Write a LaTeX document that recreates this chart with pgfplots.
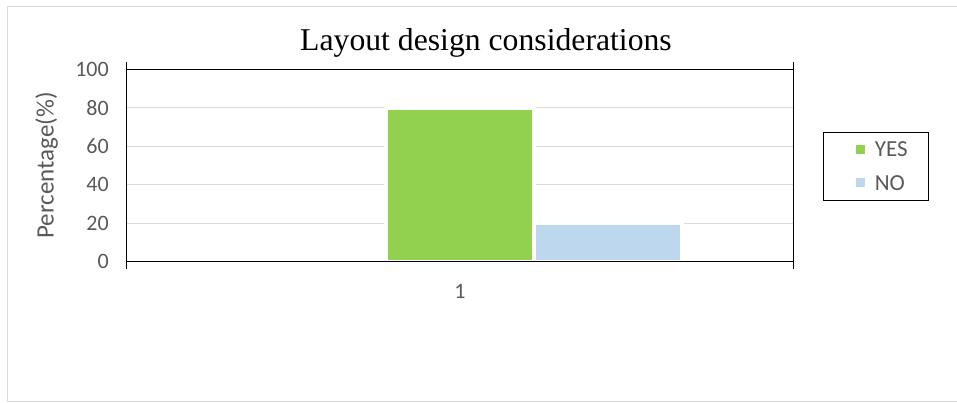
\documentclass[border=0pt]{standalone}
\usepackage{pgfplots}
\pgfplotsset{compat=1.18}
\usepackage{fontspec}
\setmainfont{Carlito}
\newfontfamily\titlefont{Liberation Serif}
\definecolor{yesgreen}{HTML}{92D050}
\definecolor{noblue}{HTML}{BDD7EE}
\definecolor{gridgray}{HTML}{D9D9D9}
\definecolor{labelgray}{HTML}{595959}
\definecolor{framegray}{HTML}{D9D9D9}

\begin{document}
\begin{tikzpicture}
\useasboundingbox (0,0) rectangle (957pt,403pt);
% chart area frame
\draw[framegray, line width=1pt] (7pt,1.3pt) rectangle (970pt,396pt);
\begin{axis}[
  at={(126.7pt,141.3pt)}, anchor=south west,
  scale only axis, width=666.6pt, height=192.4pt,
  ybar, bar width=0.2223,
  xmin=-0.5, xmax=0.5, ymin=0, ymax=100,
  ytick={0,20,...,100},
  xtick={0}, xticklabels={1},
  major tick length=0pt,
  extra x ticks={-0.5,0.5}, extra x tick labels={},
  extra x tick style={tick align=outside, major tick length=7.5pt,
    tick style={draw=black, line width=1pt}},
  ymajorgrids, grid style={gridgray, line width=1pt},
  axis line style={black, line width=1.2pt},
  /pgf/number format/assume math mode=true,
  ticklabel style={font=\fontsize{22}{26}\selectfont, text=labelgray},
  yticklabel style={xshift=-14.4pt},
  xticklabel style={yshift=-19pt},
  title={Layout design considerations},
  title style={font=\titlefont\fontsize{31.7}{36}\selectfont,
    at={(axis description cs:0.539,1)}, anchor=base, yshift=12.3pt},
  ylabel={Percentage(\%)},
  ylabel style={font=\fontsize{25}{30}\selectfont, text=labelgray,
    at={(axis description cs:-0.12,0.5)}, anchor=center},
  legend style={at={(axis description cs:1.045,0.6757)}, anchor=north west,
    draw=black, line width=1pt, font=\fontsize{23}{27}\selectfont,
    text=labelgray, inner xsep=19pt, inner ysep=10pt, row sep=18.6pt,
    nodes={text height=14.8pt, text depth=0pt, inner ysep=0pt},
    cells={anchor=west}},
  legend image code/.code={%
    \path[draw=none, fill=none] (0pt,-4.5pt) rectangle (30pt,4.5pt);
    \path[#1, draw=none] (13pt,-4.5pt) rectangle (22pt,4.5pt);},
]
\addplot[fill=yesgreen, draw=white, line width=4.3pt, bar shift=0] coordinates {(0,80)};
\addplot[fill=noblue, draw=white, line width=4.3pt, bar shift=0.2223] coordinates {(0,20)};
\legend{YES, NO}
\draw[black, line width=2pt] (rel axis cs:0,0) -- (rel axis cs:1,0);
\end{axis}
\end{tikzpicture}
\end{document}
